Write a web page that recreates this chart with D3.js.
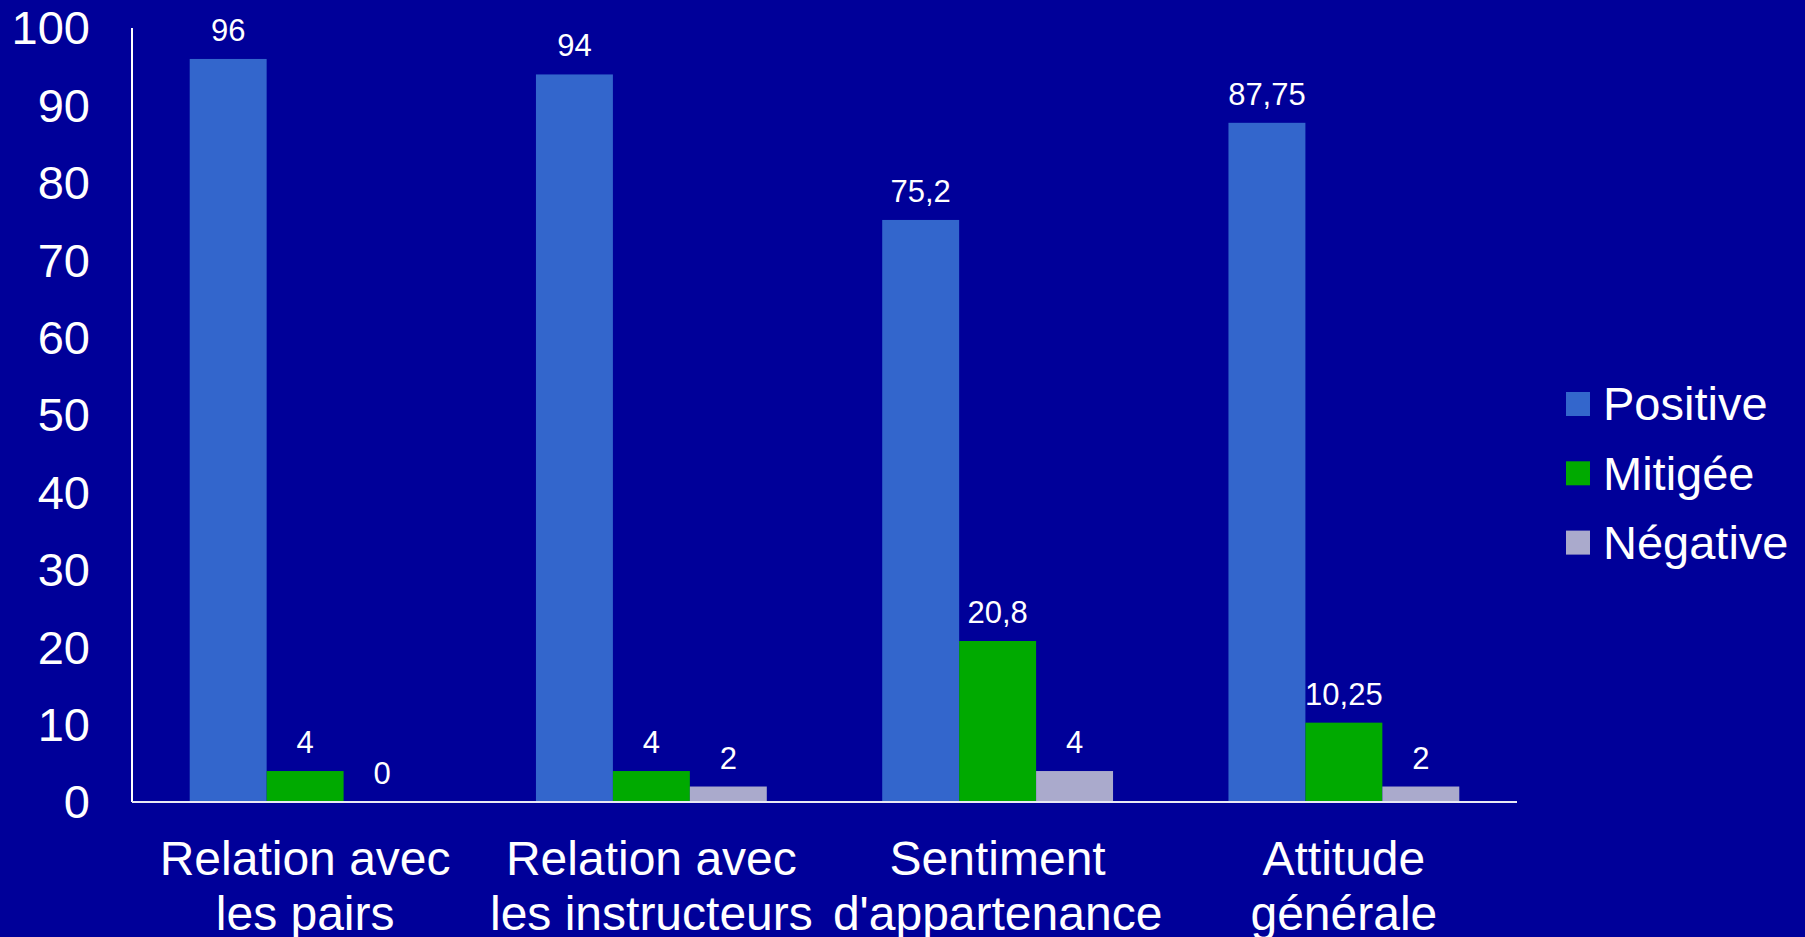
<!DOCTYPE html>
<html>
<head>
<meta charset="utf-8">
<script src="https://cdn.jsdelivr.net/npm/d3@7"></script>
<style>
  html, body { margin: 0; padding: 0; background: #000099; overflow: hidden; }
  text { font-family: "Liberation Sans", Arial, sans-serif; fill: #ffffff; }
</style>
</head>
<body>
<div id="chart"></div>
<script>
    // data
    const categories = [
        ["Relation avec", "les pairs"],
        ["Relation avec", "les instructeurs"],
        ["Sentiment", "d'appartenance"],
        ["Attitude", "générale"]
    ]
    const seriesNames = ["Positive", "Mitigée", "Négative"]
    const positive = [96, 94, 75.2, 87.75]
    const mitigee = [4, 4, 20.8, 10.25]
    const negative = [0, 2, 4, 2]
    const yTicks = [0, 10, 20, 30, 40, 50, 60, 70, 80, 90, 100]
    const colors = ["#3366cc", "#00aa00", "#aaaacc"]

    const series = [positive, mitigee, negative]

    const dimensions = {
        width: 1805,
        height: 937,
        margin: { top: 28, left: 132, right: 288, bottom: 135 }
    }
    dimensions.boundedWidth = dimensions.width - dimensions.margin.left - dimensions.margin.right
    dimensions.boundedHeight = dimensions.height - dimensions.margin.top - dimensions.margin.bottom

    const svg = d3.select("#chart").append("svg")
        .attr("width", dimensions.width)
        .attr("height", dimensions.height)

    svg.append("rect")
        .attr("width", dimensions.width)
        .attr("height", dimensions.height)
        .attr("fill", "#000099")

    const chart = svg.append("g")
        .attr("transform", `translate(${dimensions.margin.left}, ${dimensions.margin.top})`)

    // scales
    const xScale = d3.scaleBand()
        .domain(d3.range(categories.length))
        .range([0, dimensions.boundedWidth])
        .paddingInner(0)
        .paddingOuter(0)

    const innerScale = d3.scaleBand()
        .domain(d3.range(seriesNames.length))
        .range([0, xScale.bandwidth()])
        .paddingInner(0)
        .paddingOuter(0.75)

    const yScale = d3.scaleLinear()
        .domain([0, 100])
        .range([dimensions.boundedHeight, 0])

    const fmt = v => String(v).replace(".", ",")

    // bars
    const rows = []
    series.forEach((vals, s) => {
        vals.forEach((v, c) => rows.push({ s, c, v }))
    })

    chart.selectAll(".bar")
        .data(rows)
        .join("rect")
        .attr("class", "bar")
        .attr("x", d => xScale(d.c) + innerScale(d.s))
        .attr("y", d => yScale(d.v))
        .attr("width", innerScale.bandwidth())
        .attr("height", d => yScale(0) - yScale(d.v))
        .attr("fill", d => colors[d.s])

    chart.selectAll(".val")
        .data(rows)
        .join("text")
        .attr("class", "val")
        .attr("x", d => xScale(d.c) + innerScale(d.s) + innerScale.bandwidth() / 2)
        .attr("y", d => yScale(d.v) - 18)
        .attr("text-anchor", "middle")
        .style("font-size", "31px")
        .text(d => fmt(d.v))

    // axes
    chart.append("line")
        .attr("x1", 0).attr("x2", 0)
        .attr("y1", yScale(100)).attr("y2", yScale(0))
        .attr("stroke", "#ffffff")
        .attr("stroke-width", 2)

    chart.append("line")
        .attr("x1", 0).attr("x2", dimensions.boundedWidth)
        .attr("y1", yScale(0)).attr("y2", yScale(0))
        .attr("stroke", "#e8e8f4")
        .attr("stroke-width", 2)

    chart.selectAll(".ytick")
        .data(yTicks)
        .join("text")
        .attr("class", "ytick")
        .attr("x", -42)
        .attr("y", d => yScale(d))
        .attr("dy", "0.35em")
        .attr("text-anchor", "end")
        .style("font-size", "47px")
        .text(d => d)

    const catLabels = chart.selectAll(".cat")
        .data(categories)
        .join("text")
        .attr("class", "cat")
        .attr("text-anchor", "middle")
        .style("font-size", "48px")
        .attr("transform", (d, i) => `translate(${xScale(i) + xScale.bandwidth() / 2}, ${yScale(0) + 73})`)

    catLabels.selectAll("tspan")
        .data(d => d)
        .join("tspan")
        .attr("x", 0)
        .attr("y", (d, i) => i * 55)
        .text(d => d)

    // legend
    const legend = svg.append("g")
        .attr("transform", "translate(1566, 392)")

    const items = legend.selectAll("g")
        .data(seriesNames)
        .join("g")
        .attr("transform", (d, i) => `translate(0, ${i * 69.3})`)

    items.append("rect")
        .attr("width", 24)
        .attr("height", 24)
        .attr("fill", (d, i) => colors[i])

    items.append("text")
        .attr("x", 37)
        .attr("y", 12)
        .attr("dy", "0.35em")
        .style("font-size", "47px")
        .text(d => d)
</script>
</body>
</html>
